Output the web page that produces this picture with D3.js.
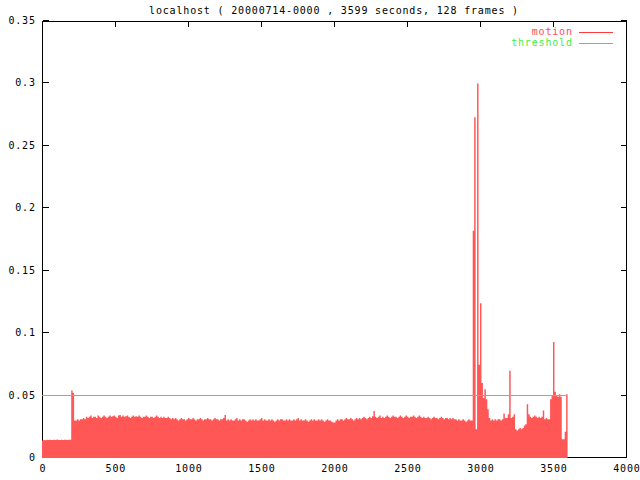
<!DOCTYPE html>
<html>
<head>
<meta charset="utf-8">
<script src="https://cdn.jsdelivr.net/npm/d3@7"></script>
<style>
  html, body { margin: 0; padding: 0; background: #fff; }
  svg text { font-family: "DejaVu Sans Mono", monospace; font-size: 10px; letter-spacing: 0.83px; }
</style>
</head>
<body>
<svg id="chart" width="640" height="480"></svg>
<script>
// ---- data ----
const titleText = "localhost ( 20000714-0000 , 3599 seconds, 128 frames )";
const binSeconds = 10;            // each value covers 10 seconds
const motionValues = [
  // 0-190 s
  0.0140, 0.0145, 0.0143, 0.0146, 0.0144, 0.0147, 0.0145, 0.0144, 0.0146, 0.0145,
  0.0148, 0.0145, 0.0144, 0.0146, 0.0145, 0.0147, 0.0146, 0.0145, 0.0146, 0.0147,
  // 200-220
  0.054, 0.052, 0.030,
  // 230-290
  0.030, 0.031, 0.030, 0.031, 0.031, 0.032, 0.031,
  // 300-440
  0.033, 0.032, 0.033, 0.034, 0.032, 0.033, 0.033, 0.032, 0.034, 0.033, 0.032, 0.033, 0.034, 0.033, 0.032,
  // 450-890
  0.033, 0.034, 0.033, 0.0335, 0.034, 0.033, 0.032, 0.034, 0.0345, 0.033,
  0.034, 0.033, 0.0335, 0.034, 0.033, 0.032, 0.033, 0.034, 0.033, 0.0335,
  0.033, 0.034, 0.033, 0.032, 0.033, 0.033, 0.034, 0.033, 0.032, 0.033,
  0.033, 0.032, 0.033, 0.034, 0.033, 0.032, 0.033, 0.032, 0.033, 0.032,
  0.032, 0.033, 0.032, 0.031, 0.032,
  // 900-1240
  0.031, 0.032, 0.031, 0.030, 0.031, 0.032, 0.031, 0.031, 0.030, 0.031,
  0.032, 0.031, 0.031, 0.032, 0.031, 0.030, 0.031, 0.031, 0.032, 0.031,
  0.030, 0.031, 0.031, 0.032, 0.031, 0.031, 0.030, 0.031, 0.032, 0.031,
  0.031, 0.030, 0.031, 0.031, 0.032,
  // 1250
  0.0345,
  // 1260-1980
  0.030, 0.031, 0.030, 0.031, 0.030, 0.030, 0.031, 0.032, 0.030, 0.031,
  0.030, 0.031, 0.031, 0.030, 0.029, 0.030, 0.031, 0.030, 0.031, 0.030,
  0.031, 0.030, 0.030, 0.031, 0.032, 0.030, 0.031, 0.030, 0.030, 0.031,
  0.030, 0.031, 0.030, 0.029, 0.030, 0.031, 0.030, 0.031, 0.031, 0.030,
  0.030, 0.031, 0.030, 0.031, 0.030, 0.030, 0.031, 0.030, 0.031, 0.032,
  0.030, 0.031, 0.030, 0.030, 0.031, 0.030, 0.029, 0.030, 0.031, 0.030,
  0.031, 0.030, 0.030, 0.031, 0.030, 0.031, 0.030, 0.029, 0.030, 0.031,
  0.030, 0.030, 0.029,
  // 1990-2000
  0.0285, 0.0285,
  // 2010-2260
  0.030, 0.031, 0.030, 0.031, 0.031, 0.030, 0.031, 0.032, 0.031, 0.031,
  0.032, 0.031, 0.030, 0.031, 0.032, 0.031, 0.032, 0.031, 0.032, 0.033,
  0.032, 0.031, 0.032, 0.033, 0.032, 0.0335,
  // 2270
  0.0377,
  // 2280-2580
  0.033, 0.032, 0.033, 0.034, 0.032, 0.033, 0.032, 0.033, 0.034, 0.033,
  0.032, 0.033, 0.034, 0.033, 0.033, 0.032, 0.033, 0.034, 0.033, 0.032,
  0.033, 0.034, 0.033, 0.032, 0.033, 0.033, 0.034, 0.033, 0.032, 0.033,
  0.034,
  // 2590-2830
  0.033, 0.032, 0.033, 0.032, 0.032, 0.033, 0.032, 0.031, 0.032, 0.033,
  0.032, 0.032, 0.031, 0.032, 0.033, 0.032, 0.031, 0.032, 0.032, 0.031,
  0.032, 0.031, 0.032, 0.031, 0.031,
  // 2840-2940
  0.030, 0.031, 0.030, 0.030, 0.031, 0.030, 0.029, 0.030, 0.031, 0.030, 0.030,
  // 2950-3060
  0.182, 0.273, 0.023, 0.300, 0.0746, 0.124, 0.060, 0.048, 0.055, 0.047, 0.039, 0.032,
  // 3070-3150
  0.030, 0.031, 0.030, 0.031, 0.030, 0.031, 0.031, 0.030, 0.031,
  // 3160-3230
  0.0356, 0.032, 0.032, 0.035, 0.0698, 0.032, 0.033, 0.035,
  // 3240-3290
  0.023, 0.022, 0.023, 0.024, 0.023, 0.024,
  // 3300-3320
  0.026, 0.027, 0.043,
  // 3330-3420
  0.035, 0.033, 0.032, 0.033, 0.034, 0.033, 0.032, 0.033, 0.032, 0.033,
  // 3430-3470
  0.038, 0.031, 0.032, 0.031, 0.031,
  // 3480-3590
  0.047, 0.050, 0.093, 0.053, 0.050, 0.049, 0.051, 0.049, 0.015, 0.015, 0.021, 0.051
];
const thresholdValue = 0.05;
const thresholdRange = [0, 3599];
const xTicks = [0, 500, 1000, 1500, 2000, 2500, 3000, 3500, 4000];
const yTicks = [0, 0.05, 0.1, 0.15, 0.2, 0.25, 0.3, 0.35];
const yTickLabels = ["0", "0.05", "0.1", "0.15", "0.2", "0.25", "0.3", "0.35"];
const legendNames = ["motion", "threshold"];

// ---- drawing ----
const colMotion = "#ff5656";
const colMotionLine = "#ff3a3a";
const colMotionText = "#ff4a5a";
const colThresh = "#48e048";
const colThreshText = "#3ff03f";

const svg = d3.select("#chart");
const L = 42, R = 626, T = 21, B = 458;
const x = d3.scaleLinear().domain([0, 4000]).range([L, R]);
const y = d3.scaleLinear().domain([0, 0.35]).range([B, T]);

// frame
svg.append("rect")
  .attr("x", L + 0.5).attr("y", T + 0.5)
  .attr("width", R - L).attr("height", B - 1 - T)
  .attr("fill", "none").attr("stroke", "#000").attr("stroke-width", 1)
  .attr("shape-rendering", "crispEdges");

// y ticks (inward on both sides) and labels
const yAxisL = d3.axisRight(y).tickValues(yTicks).tickSize(6).tickFormat("");
const yAxisR = d3.axisLeft(y).tickValues(yTicks).tickSize(6).tickFormat("");
const gyl = svg.append("g").attr("transform", `translate(${L + 0.5},0)`).call(yAxisL);
const gyr = svg.append("g").attr("transform", `translate(${R + 0.5},0)`).call(yAxisR);
[gyl, gyr].forEach(g => {
  g.select(".domain").remove();
  g.selectAll(".tick").attr("transform", d => `translate(0,${Math.round(y(d)) - 0.5})`);
  g.selectAll(".tick line").attr("stroke", "#000").attr("shape-rendering", "crispEdges");
});
svg.append("g").selectAll("text").data(yTicks).join("text")
  .attr("x", 35.8).attr("y", d => Math.round(y(d)) - 0.5)
  .attr("text-anchor", "end").attr("dominant-baseline", "central")
  .attr("fill", "#000")
  .text((d, i) => yTickLabels[i]);

// x ticks (inward top and bottom) and labels
const xAxisB = d3.axisTop(x).tickValues(xTicks).tickSize(5).tickFormat("");
const xAxisT = d3.axisBottom(x).tickValues(xTicks).tickSize(5).tickFormat("");
const gxb = svg.append("g").attr("transform", `translate(0,${B - 0.5})`).call(xAxisB);
const gxt = svg.append("g").attr("transform", `translate(0,${T + 0.5})`).call(xAxisT);
[gxb, gxt].forEach(g => {
  g.select(".domain").remove();
  g.selectAll(".tick").attr("transform", d => `translate(${Math.round(x(d)) + 0.5},0)`);
  g.selectAll(".tick line").attr("stroke", "#000").attr("shape-rendering", "crispEdges");
});
svg.append("g").selectAll("text").data(xTicks).join("text")
  .attr("x", d => x(d) + 0.9).attr("y", 468)
  .attr("text-anchor", "middle").attr("dominant-baseline", "central")
  .attr("fill", "#000")
  .text(d => String(d));

// motion as filled histogram (step area)
const pts = motionValues.map((v, i) => ({ s: i * binSeconds, v }));
pts.push({ s: motionValues.length * binSeconds, v: motionValues[motionValues.length - 1] });
const area = d3.area()
  .x(d => x(d.s)).y0(y(0)).y1(d => y(d.v))
  .curve(d3.curveStepAfter);
svg.append("path").datum(pts)
  .attr("d", area).attr("fill", colMotion).attr("stroke", "none");

// threshold line
svg.append("line")
  .attr("x1", x(thresholdRange[0])).attr("x2", x(thresholdRange[1]))
  .attr("y1", Math.round(y(thresholdValue)) - 0.5).attr("y2", Math.round(y(thresholdValue)) - 0.5)
  .attr("stroke", colThresh).attr("stroke-width", 1).attr("shape-rendering", "crispEdges");

// title
svg.append("text")
  .attr("x", 334).attr("y", 10)
  .attr("text-anchor", "middle").attr("dominant-baseline", "central")
  .attr("fill", "#000").text(titleText);

// legend
const legendColors = [colMotionLine, colThresh];
const legendTextColors = [colMotionText, colThreshText];
const lg = svg.append("g");
legendNames.forEach((name, i) => {
  const cy = 32 + i * 11 - 0.5;
  lg.append("text").attr("x", 572.8).attr("y", cy)
    .attr("text-anchor", "end").attr("dominant-baseline", "central")
    .attr("fill", legendTextColors[i]).text(name);
  lg.append("line").attr("x1", 579).attr("x2", 613)
    .attr("y1", Math.round(cy) + 0.5).attr("y2", Math.round(cy) + 0.5)
    .attr("stroke", legendColors[i]).attr("stroke-width", 1)
    .attr("shape-rendering", "crispEdges");
});
</script>
</body>
</html>
